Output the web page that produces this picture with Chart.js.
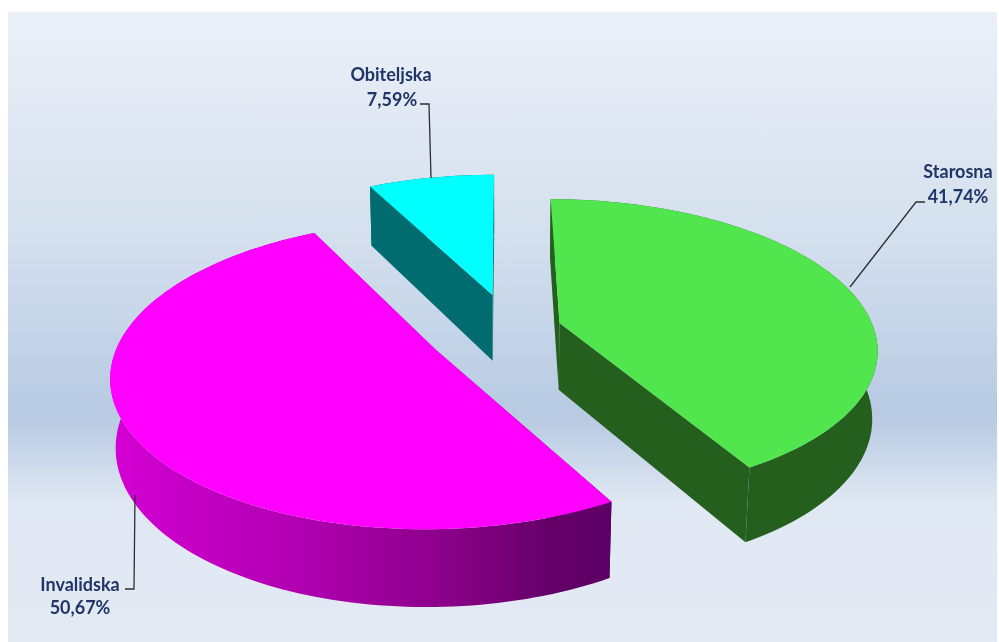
<!DOCTYPE html>
<html>
<head>
<meta charset="utf-8">
<title>Mirovine</title>
<script src="https://cdn.jsdelivr.net/npm/chart.js@4"></script>
<style>
  body { margin: 0; background: #fff; }
  #pozadina {
    position: absolute; left: 8px; top: 12px; width: 989px; height: 630px;
    background: linear-gradient(to bottom, #ebf0f8 0%, #d5e0ee 35%, #b8cbe3 63%, #bccde4 66%, #e0e8f3 78%, #e3eaf4 100%);
  }
  #wrap { position: absolute; left: 0; top: 0; width: 999px; height: 642px; }
</style>
</head>
<body>
<div id="pozadina"></div>
<div id="wrap"><canvas id="graf" width="999" height="642"></canvas></div>
<script>
const kategorije = ['Starosna', 'Invalidska', 'Obiteljska'];
const udjeli = [41.74, 50.67, 7.59];
const postotci = ['41,74%', '50,67%', '7,59%'];
const bojeVrh = ['#52e64e', '#ff00ff', '#00ffff'];
const bojeStrana = ['#245f1e', null, '#006c70'];
const izvlacenje = [62, 56, 46];
// dodatni pomak kriske na ekranu [x, y]
const pomak = [[3, 0], [-2, 5], [12, -14]];

// projekcija ravnine pite na ekran (perspektiva odokativno namjestena)
const cam = { cx: 492, cy: 331, R: 315, a: 146, p: 0.16, h: 68, q: 0.014 };

function projekcija(u, v, z, n) {
    const w = 1 - cam.p * v + cam.q * z;
    return { x: cam.cx + n[0] + cam.R * u / w, y: cam.cy + n[1] + (cam.a * v + cam.h * z) / w };
}

// Tocke kriske u jedinicama polumjera: vrh pa luk
function tockeKriske(arc, offset) {
    const mid = (arc.startAngle + arc.endAngle) / 2;
    const d = offset / arc.outerRadius;
    const ou = Math.cos(mid) * d, ov = Math.sin(mid) * d;
    const tocke = [{ u: ou, v: ov }];
    const koraka = Math.ceil((arc.endAngle - arc.startAngle) * 40);
    for (let i = 0; i <= koraka; i++) {
        const t = arc.startAngle + (arc.endAngle - arc.startAngle) * i / koraka;
        tocke.push({ u: ou + Math.cos(t), v: ov + Math.sin(t) });
    }
    return tocke;
}

function poligon(ctx, tocke, boja) {
    ctx.beginPath();
    tocke.forEach((p, i) => i ? ctx.lineTo(p.x, p.y) : ctx.moveTo(p.x, p.y));
    ctx.closePath();
    ctx.fillStyle = boja;
    ctx.fill();
}

function crtajKrisku(ctx, arc, offset, n, boja, strana) {
    const tocke = tockeKriske(arc, offset);
    const vrh = tocke.map(t => projekcija(t.u, t.v, 0, n));
    const dno = tocke.map(t => projekcija(t.u, t.v, 1, n));
    const zadnji = tocke.length - 1;

    // ravne strane pa obod
    poligon(ctx, [vrh[0], vrh[1], dno[1], dno[0]], strana);
    poligon(ctx, [vrh[0], vrh[zadnji], dno[zadnji], dno[0]], strana);
    poligon(ctx, vrh.slice(1).concat(dno.slice(1).reverse()), strana);

    // gornja ploha
    poligon(ctx, vrh, boja);
}

const pita3d = {
    id: 'pita3d',
    beforeDatasetDraw(chart, args) {
        const ctx = chart.ctx;
        const arcs = chart.getDatasetMeta(args.index).data;
        const prelaz = ctx.createLinearGradient(110, 0, 612, 0);
        prelaz.addColorStop(0, '#d400d4');
        prelaz.addColorStop(0.4, '#ae00ae');
        prelaz.addColorStop(0.7, '#860084');
        prelaz.addColorStop(0.88, '#640068');
        prelaz.addColorStop(1, '#5c0066');
        // straga prema naprijed
        [2, 0, 1].forEach(i => {
            crtajKrisku(ctx, arcs[i], izvlacenje[i], pomak[i], bojeVrh[i], bojeStrana[i] || prelaz);
        });
        return false;
    },
    afterDraw(chart) {
        const ctx = chart.ctx;
        ctx.save();
        ctx.strokeStyle = '#2b2f36';
        ctx.lineWidth = 1.3;
        [
            [[925, 202], [916, 202], [850, 287]],
            [[125, 589], [134, 589], [135, 495]],
            [[420, 104], [429, 104], [431, 178]]
        ].forEach(l => {
            ctx.beginPath();
            l.forEach((p, i) => i ? ctx.lineTo(p[0], p[1]) : ctx.moveTo(p[0], p[1]));
            ctx.stroke();
        });
        ctx.fillStyle = '#1f3566';
        ctx.font = 'bold 18px Lato';
        ctx.textAlign = 'center';
        ctx.textBaseline = 'middle';
        const mjesta = [[958, 172, 958, 197], [80, 585, 80, 608], [391, 75, 392, 100]];
        kategorije.forEach((k, i) => {
            ctx.fillText(k, mjesta[i][0], mjesta[i][1]);
            ctx.fillText(postotci[i], mjesta[i][2], mjesta[i][3]);
        });
        ctx.restore();
    }
};

new Chart(document.getElementById('graf'), {
    type: 'pie',
    data: {
        labels: kategorije,
        datasets: [{
            data: udjeli,
            backgroundColor: bojeVrh,
            offset: izvlacenje,
            borderWidth: 0
        }]
    },
    options: {
        responsive: false,
        animation: false,
        plugins: {
            legend: { display: false },
            tooltip: { enabled: false }
        }
    },
    plugins: [pita3d]
});
</script>
</body>
</html>
